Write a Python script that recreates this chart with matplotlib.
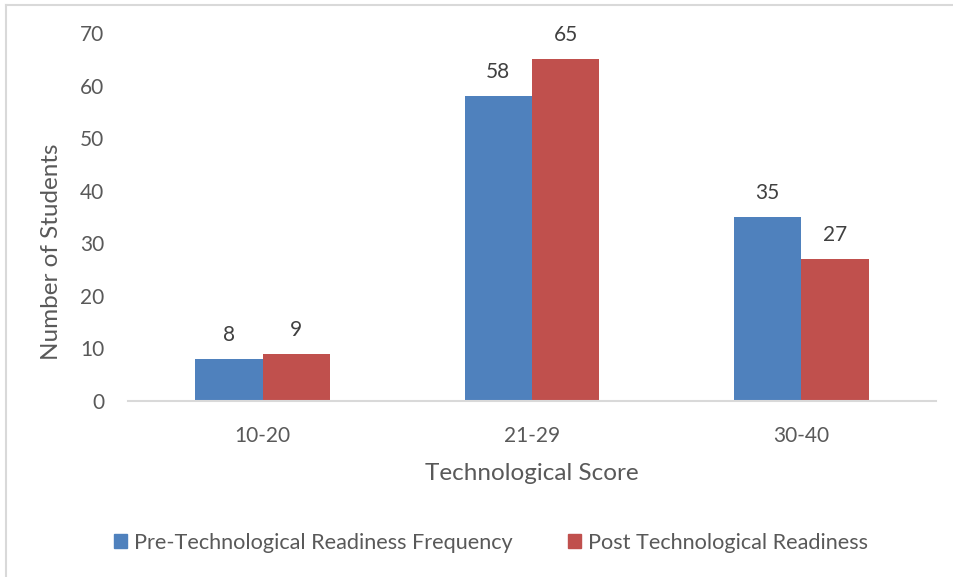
import numpy as np
import matplotlib.pyplot as plt
from matplotlib.patches import Rectangle

categories = ['10-20', '21-29', '30-40']
pre_values = [8, 58, 35]
post_values = [9, 65, 27]
series_names = ['Pre-Technological Readiness Frequency', 'Post Technological Readiness']

blue = '#4F81BD'
red = '#C0504D'
text_color = '#595959'

plt.rcParams['font.family'] = ['Lato', 'DejaVu Sans']

fig = plt.figure(figsize=(9.54, 5.77), dpi=100)
fig.patch.set_facecolor('white')
ax = fig.add_axes([128 / 954, 1 - 401 / 577, (936 - 128) / 954, (401 - 33) / 577])

x = np.arange(len(categories))
w = 0.25
b1 = ax.bar(x - w / 2, pre_values, w, color=blue, label=series_names[0])
b2 = ax.bar(x + w / 2, post_values, w, color=red, label=series_names[1])

for bars in (b1, b2):
    for rect in bars:
        ax.annotate(str(int(rect.get_height())),
                    (rect.get_x() + rect.get_width() / 2, rect.get_height()),
                    xytext=(0, 10), textcoords='offset points',
                    ha='center', va='bottom', fontsize=15, color='#404040')

ax.set_xlim(-0.5, 2.5)
ax.set_ylim(0, 70)
ax.set_yticks(range(0, 71, 10))
ax.set_xticks(x)
ax.set_xticklabels(categories)
ax.tick_params(axis='both', length=0, labelsize=15, labelcolor=text_color)
ax.tick_params(axis='x', pad=18)
ax.tick_params(axis='y', pad=17)

for s in ['top', 'right', 'left']:
    ax.spines[s].set_visible(False)
ax.spines['bottom'].set_color('#D9D9D9')
ax.spines['bottom'].set_linewidth(1.5)

ax.set_xlabel('Technological Score', fontsize=17.5, color=text_color, labelpad=12)
ax.set_ylabel('Number of Students', fontsize=17.5, color=text_color)
ax.yaxis.set_label_coords(-0.082, 0.405)

handles = [Rectangle((0, 0), 1, 1, color=blue), Rectangle((0, 0), 1, 1, color=red)]
fig.legend(handles, series_names, loc='center', bbox_to_anchor=(491 / 954, 1 - 543 / 577),
           ncol=2, frameon=False, fontsize=15.6, labelcolor=text_color,
           handlelength=0.6, handleheight=0.6, handletextpad=0.3, columnspacing=2.6)

# light frame on top and left like the source image
fig.add_artist(plt.Line2D([6 / 954, 1], [1 - 5 / 577, 1 - 5 / 577], color='#D9D9D9', lw=1.5))
fig.add_artist(plt.Line2D([6 / 954, 6 / 954], [0, 1 - 5 / 577], color='#D9D9D9', lw=1.5))

fig.savefig('out.png', dpi=100)
